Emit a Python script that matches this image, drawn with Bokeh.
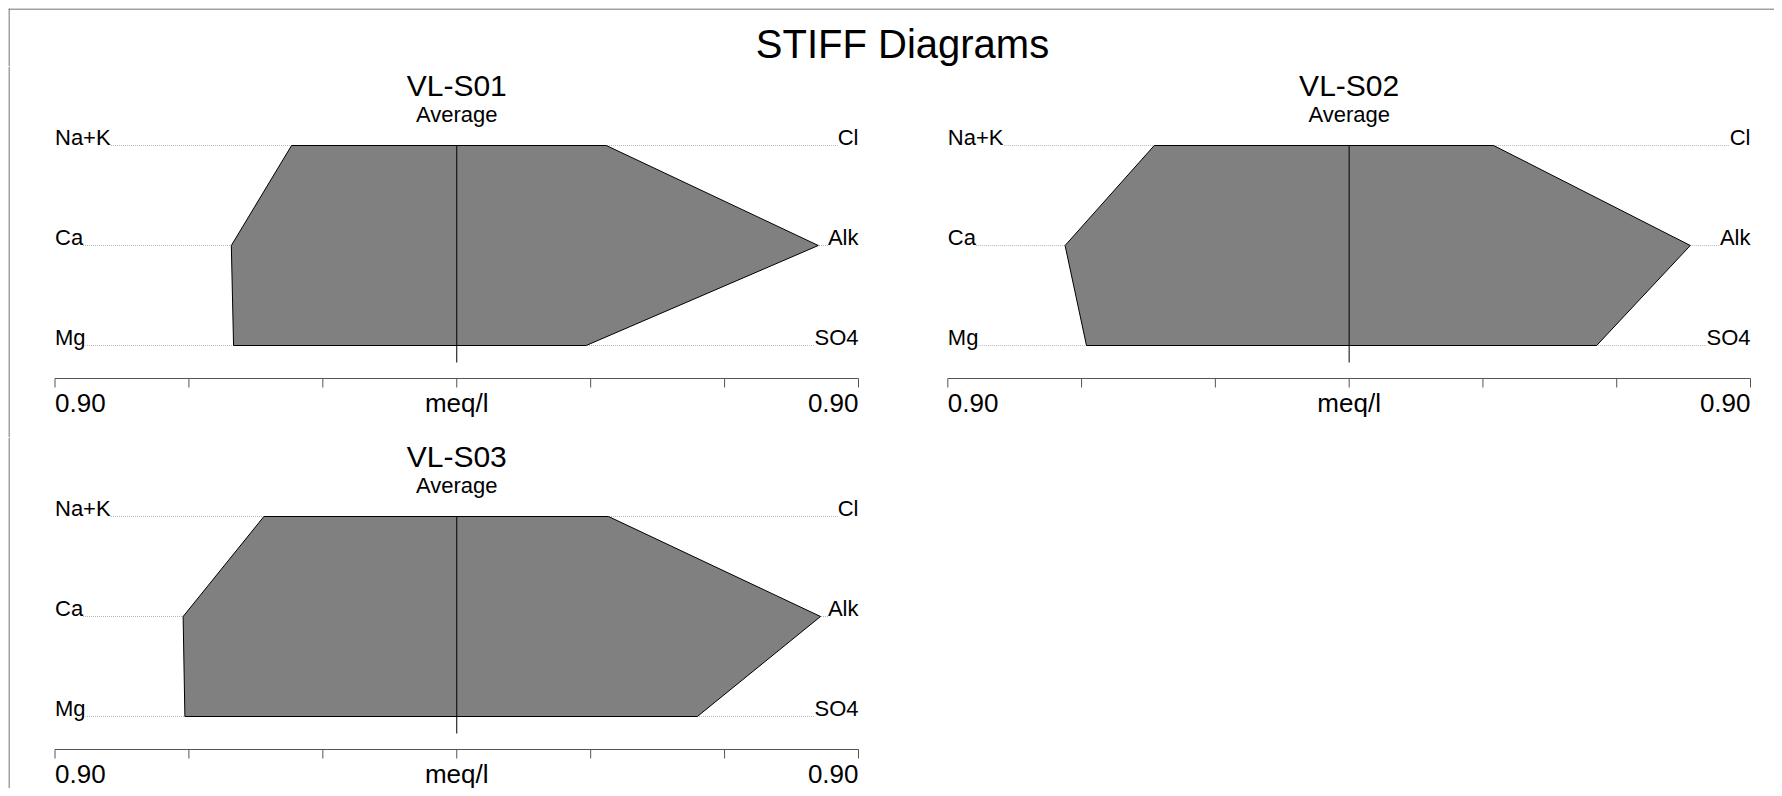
from bokeh.plotting import figure
from bokeh.models import Range1d, Label, ColumnDataSource, Spacer
from bokeh.layouts import column, row
from bokeh.embed import file_html
from bokeh.resources import INLINE

# ---------------- data (meq/l) ----------------
main_title = "STIFF Diagrams"
sample_names = ["VL-S01", "VL-S02", "VL-S03"]
subtitle = "Average"
cation_names = ["Na+K", "Ca", "Mg"]
anion_names = ["Cl", "Alk", "SO4"]
row_levels = [2, 1, 0]

s01_cations = [0.37, 0.505, 0.50]
s01_anions = [0.335, 0.81, 0.29]
s02_cations = [0.437, 0.637, 0.589]
s02_anions = [0.324, 0.765, 0.555]
s03_cations = [0.432, 0.613, 0.609]
s03_anions = [0.34, 0.815, 0.539]

scale_max = 0.9
tick_values = [-0.9, -0.6, -0.3, 0.0, 0.3, 0.6, 0.9]
axis_label_positions = [-0.9, 0.0, 0.9]
axis_label_texts = ["0.90", "meq/l", "0.90"]

FONT = "Liberation Sans"
BORDER = "#444444"
MID = 0.35          # em offset from alphabetic baseline to label middle
PPU_Y = 100.0       # pixels per row unit


def lab(p, x, y_base, text, size, align, bg=None):
    """Label whose alphabetic baseline sits at y_base (data units)."""
    y = y_base + MID * size / PPU_Y
    kw = dict(background_fill_color=bg) if bg else {}
    p.add_layout(Label(x=x, y=y, text=text, text_align=align,
                       text_baseline="middle", text_font=FONT,
                       text_font_size=f"{size}px", text_color="black", **kw))


def make_panel(name, cations, anions, width, height, left_px, frame_w, left_border):
    ppu_x = frame_w / (2 * scale_max)
    x0 = -scale_max - left_px / ppu_x
    x1 = x0 + width / ppu_x
    y_top = row_levels[0] + 0.79
    y_bot = y_top - height / PPU_Y
    p = figure(width=width, height=height,
               x_range=Range1d(x0, x1), y_range=Range1d(y_bot, y_top),
               x_axis_location=None, y_axis_location=None,
               toolbar_location=None, output_backend="svg",
               min_border_left=0, min_border_right=0,
               min_border_top=0, min_border_bottom=0)
    p.outline_line_color = None
    p.grid.grid_line_color = None
    p.background_fill_color = "white"
    p.border_fill_color = "white"

    # dotted guide lines
    guides = ColumnDataSource(dict(x0=[-scale_max] * 3, x1=[scale_max] * 3,
                                   y=row_levels))
    p.segment(x0="x0", y0="y", x1="x1", y1="y", source=guides,
              line_color="#b8b8b8", line_width=1, line_dash="1 1")

    # stiff polygon
    xs = [-v for v in cations] + [v for v in anions][::-1]
    ys = list(row_levels) + list(row_levels)[::-1]
    p.patch(xs, ys, fill_color="#808080", line_color="black", line_width=1)

    # center line
    p.segment(x0=[0], y0=[row_levels[0]], x1=[0], y1=[-0.17],
              line_color="black", line_width=1)

    # bottom scale axis (line + ticks)
    ax_y = -0.33
    p.segment(x0=[tick_values[0]], y0=[ax_y], x1=[tick_values[-1]], y1=[ax_y],
              line_color="#555555", line_width=1)
    p.segment(x0=tick_values, y0=[ax_y] * len(tick_values),
              x1=tick_values, y1=[ax_y - 0.09] * len(tick_values),
              line_color="#555555", line_width=1)
    for xv, txt, al in zip(axis_label_positions, axis_label_texts,
                           ["left", "center", "right"]):
        lab(p, xv, -0.667, txt, 26, al)

    # ion labels
    for lvl, cn, an in zip(row_levels, cation_names, anion_names):
        lab(p, -scale_max, lvl, cn, 22, "left", bg="white")
        lab(p, scale_max, lvl, an, 22, "right", bg="white")

    # titles
    lab(p, 0, 2.5, name, 30, "center")
    lab(p, 0, 2.23, subtitle, 22, "center")

    if left_border:
        xb = x0 + 0.5 / ppu_x
        p.segment(x0=[xb], y0=[y_bot], x1=[xb], y1=[y_top],
                  line_color=BORDER, line_width=1)
    return p


HEADER_H = 58
header = figure(width=1766, height=HEADER_H, x_range=Range1d(0, 1766),
                y_range=Range1d(0, HEADER_H),
                x_axis_location=None, y_axis_location=None,
                toolbar_location=None, output_backend="svg",
                min_border_left=0, min_border_right=0, min_border_top=0, min_border_bottom=0)
header.outline_line_color = None
header.grid.grid_line_color = None
header.add_layout(Label(x=894, y=HEADER_H - 49 + MID * 40, text=main_title,
                        text_align="center", text_baseline="middle", text_font=FONT,
                        text_font_size="40px", text_color="black"))
header.segment(x0=[0], y0=[HEADER_H - 0.5], x1=[1766], y1=[HEADER_H - 0.5],
               line_color=BORDER, line_width=1)
header.segment(x0=[0.5], y0=[0], x1=[0.5], y1=[HEADER_H],
               line_color=BORDER, line_width=1)

p1 = make_panel(sample_names[0], s01_cations, s01_anions, 883, 371, 46.5, 803.5, True)
p2 = make_panel(sample_names[1], s02_cations, s02_anions, 883, 371, 56.3, 802.7, False)
p3 = make_panel(sample_names[2], s03_cations, s03_anions, 883, 351, 46.5, 803.5, True)

inner = column(header, row(p1, p2), p3)
layout = column(Spacer(height=8), row(Spacer(width=8), inner))

open("out.html", "w").write(file_html(layout, INLINE))
